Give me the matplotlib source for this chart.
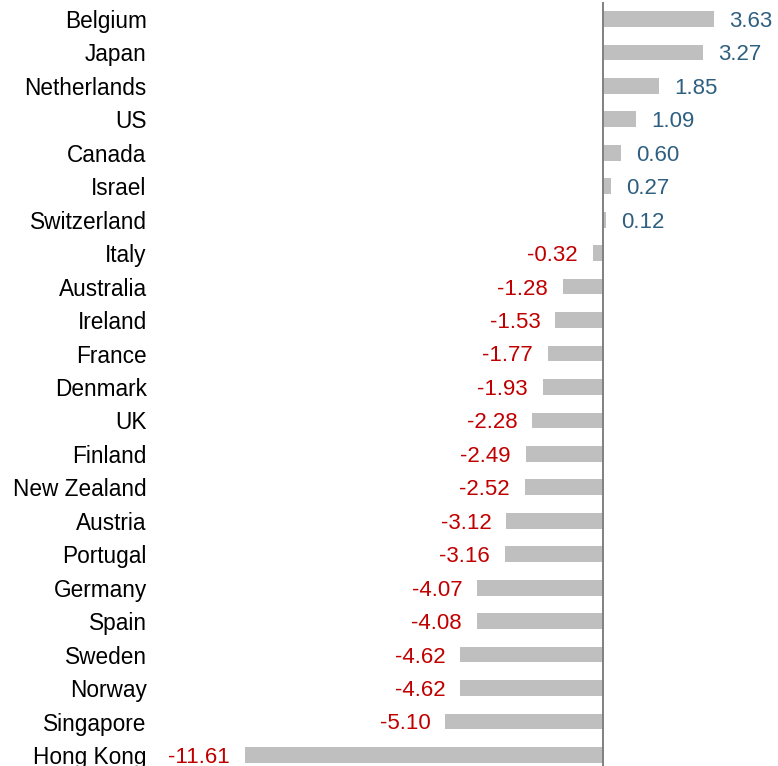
import matplotlib
matplotlib.use("Agg")
import matplotlib.pyplot as plt

countries = ["Belgium", "Japan", "Netherlands", "US", "Canada", "Israel", "Switzerland",
             "Italy", "Australia", "Ireland", "France", "Denmark", "UK", "Finland",
             "New Zealand", "Austria", "Portugal", "Germany", "Spain", "Sweden",
             "Norway", "Singapore", "Hong Kong"]
values = [3.63, 3.27, 1.85, 1.09, 0.60, 0.27, 0.12,
          -0.32, -1.28, -1.53, -1.77, -1.93, -2.28, -2.49,
          -2.52, -3.12, -3.16, -4.07, -4.08, -4.62,
          -4.62, -5.10, -11.61]

BAR = "#BFBFBF"
POS = "#2F5F80"
NEG = "#C00000"
FS = 16

plt.rcParams['font.family'] = ['Liberation Sans', 'DejaVu Sans']

W, H = 778, 766
fig = plt.figure(figsize=(W / 100, H / 100), dpi=100)
ax_left = 155
ax = fig.add_axes([ax_left / W, 0, (W - ax_left) / W, 1])

ypos = list(range(len(countries)))
ax.barh(ypos, values, height=0.47, color=BAR, zorder=2)

zero_px = 602.5
scale = 30.8
ax.set_xlim(-(zero_px - ax_left) / scale, (W - zero_px) / scale)
ax.set_ylim(len(countries) - 1 + 0.33, -0.568)

ax.plot([0, 0], [-0.48, len(countries) - 1 + 0.33], color="#808080", lw=1.4, zorder=3, clip_on=False)

gap_pt = 15 * 0.72
cap_half_pt = 0.716 * FS / 2
for y, v in zip(ypos, values):
    if v >= 0:
        ax.annotate(f"{v:.2f}", xy=(v, y), xytext=(gap_pt, -cap_half_pt), textcoords="offset points",
                    ha="left", va="baseline", color=POS, fontsize=FS)
    else:
        ax.annotate(f"{v:.2f}", xy=(v, y), xytext=(-gap_pt, -cap_half_pt), textcoords="offset points",
                    ha="right", va="baseline", color=NEG, fontsize=FS)

ax.set_yticks(ypos)
ax.set_yticklabels(countries, fontsize=16.3)
ax.tick_params(axis="y", length=0, pad=6)
ax.set_xticks([])
for s in ax.spines.values():
    s.set_visible(False)

fig.savefig("out.png", dpi=100)
